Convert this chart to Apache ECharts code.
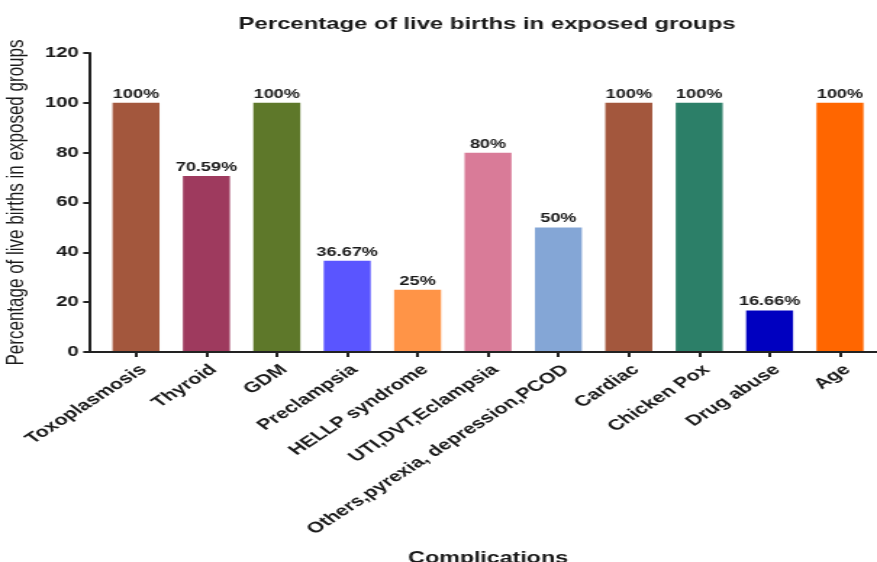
<!DOCTYPE html>
<html>
<head>
<meta charset="utf-8">
<script src="https://cdn.jsdelivr.net/npm/echarts@6/dist/echarts.min.js"></script>
<style>
html,body{margin:0;padding:0;background:#fff;overflow:hidden;}
#wrap{width:877px;height:562px;overflow:hidden;position:relative;}
#chart{width:605px;height:562px;transform:scaleX(1.4496);transform-origin:0 0;}
</style>
</head>
<body>
<div id="wrap"><div id="chart"></div></div>
<script>
const categories = ['Toxoplasmosis','Thyroid','GDM','Preclampsia','HELLP syndrome','UTI,DVT,Eclampsia','Others,pyrexia, depression,PCOD','Cardiac','Chicken Pox','Drug abuse','Age'];
const values = [100, 70.59, 100, 36.67, 25, 80, 50, 100, 100, 16.66, 100];
const colors = ['#A3573D','#9E3A5E','#5E782A','#5A55FF','#FF9447','#D97B98','#84A6D6','#A3573D','#2C7F68','#0000C0','#FF6600'];
const yTicks = [0, 20, 40, 60, 80, 100, 120];

const FONT = 'Liberation Sans, Arial, sans-serif';
const positions = categories.map((c, i) => i);

const chart = echarts.init(document.getElementById('chart'), null, {renderer: 'canvas'});
chart.setOption({
  animation: false,
  backgroundColor: '#fff',
  title: {
    text: 'Percentage of live births in exposed groups',
    left: 331, top: 11, textAlign: 'center',
    textStyle: {fontFamily: FONT, fontSize: 16.5, fontWeight: 'bold', color: '#1a1a1a'}
  },
  grid: {left: 61.4, right: 0, top: 53, bottom: 210, containLabel: false, outerBoundsMode: 'none'},
  xAxis: {
    type: 'value',
    min: -0.6676, max: 10.526,
    name: 'Complications',
    nameLocation: 'middle',
    nameGap: 199,
    nameTextStyle: {fontFamily: FONT, fontSize: 16, fontWeight: 'bold', color: '#1a1a1a', padding: [0, 0, 0, 7]},
    axisLine: {show: true, onZero: false, lineStyle: {color: '#222', width: 2}},
    axisTick: {show: true, customValues: positions, length: 5, lineStyle: {color: '#222', width: 2}},
    axisLabel: {
      customValues: positions,
      rotate: 43, margin: 10, verticalAlign: 'top',
      fontFamily: FONT, fontSize: 15, fontWeight: 'bold', color: '#1a1a1a',
      formatter: v => categories[Math.round(v)]
    },
    splitLine: {show: false},
    z: 10
  },
  yAxis: {
    type: 'value', min: yTicks[0], max: yTicks[yTicks.length - 1], interval: 20,
    name: 'Percentage of live births in exposed groups',
    nameLocation: 'middle', nameGap: 36,
    nameTextStyle: {fontFamily: FONT, fontSize: 17, color: '#1a1a1a'},
    axisLine: {show: true, onZero: false, lineStyle: {color: '#222', width: 2}},
    axisTick: {show: true, length: 4, lineStyle: {color: '#222', width: 2}},
    axisLabel: {fontFamily: FONT, fontSize: 14, fontWeight: 'bold', color: '#1a1a1a', margin: 7},
    splitLine: {show: false},
    z: 10
  },
  series: [{
    type: 'bar',
    barWidth: 32.4,
    data: values.map((v, i) => ({value: [i, v], itemStyle: {color: colors[i]}})),
    label: {
      show: true, position: 'top', distance: 2,
      fontFamily: FONT, fontSize: 12.5, fontWeight: 'bold', color: '#1a1a1a',
      formatter: p => p.value[1] + '%'
    }
  }]
});
</script>
</body>
</html>
